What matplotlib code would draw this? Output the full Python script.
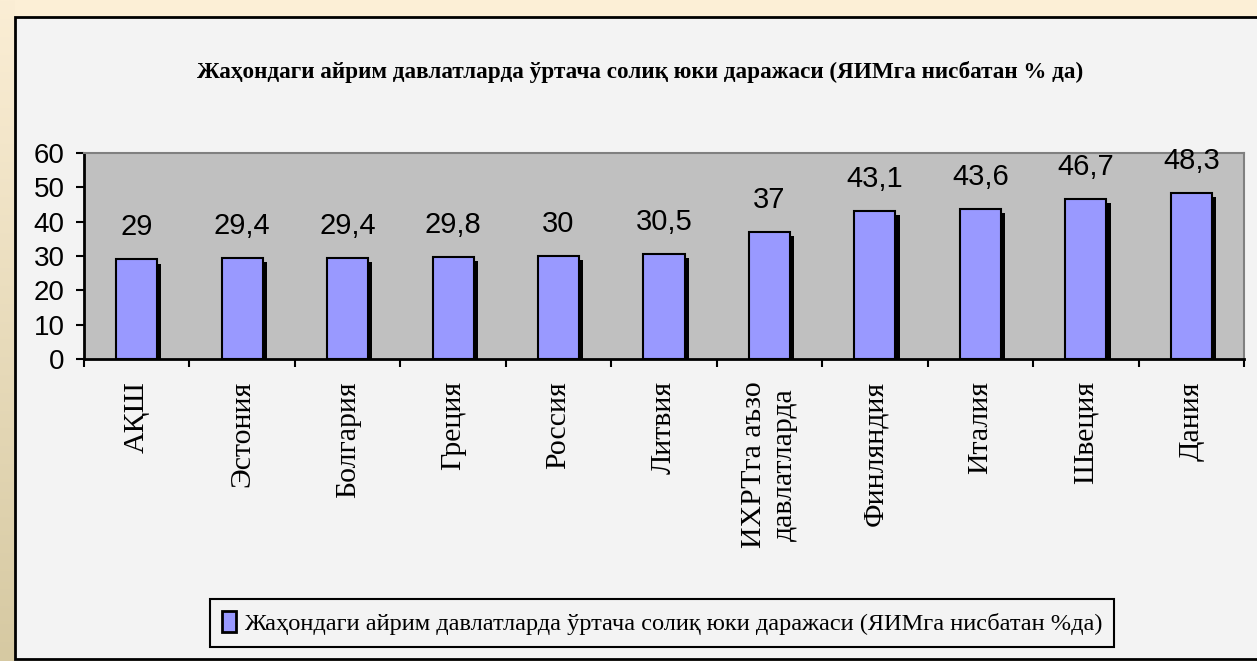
import numpy as np
import matplotlib
matplotlib.use("Agg")
import matplotlib.pyplot as plt
import matplotlib.patheffects as pe
from matplotlib.patches import Rectangle

categories = ["АҚШ", "Эстония", "Болгария", "Греция", "Россия", "Литвия",
              "ИХРТга аъзо\nдавлатларда", "Финляндия", "Италия", "Швеция", "Дания"]
values = [29, 29.4, 29.4, 29.8, 30, 30.5, 37, 43.1, 43.6, 46.7, 48.3]
yticks = [0, 10, 20, 30, 40, 50, 60]
title = "Жаҳондаги айрим давлатларда ўртача солиқ юки даражаси (ЯИМга нисбатан % да)"
series_name = "Жаҳондаги айрим давлатларда ўртача солиқ юки даражаси (ЯИМга нисбатан %да)"

SERIF = ["Liberation Serif", "DejaVu Serif"]
SANS = ["Liberation Sans Narrow", "Liberation Sans", "DejaVu Sans"]

W, H = 1257, 661
fig = plt.figure(figsize=(W / 100, H / 100), dpi=100)
fig.patch.set_facecolor("#fcefd6")

def fx(px):
    return px / W

def fy(py):
    return 1 - py / H

# left gradient strip
gax = fig.add_axes([0, 0, fx(15), 1], zorder=-2)
grad = np.linspace(0, 1, 256).reshape(-1, 1)
top_c = np.array([0xfb, 0xee, 0xd5]) / 255
bot_c = np.array([0xd6, 0xc9, 0xa2]) / 255
img = top_c[None, None, :] * (1 - grad[:, :, None]) + bot_c[None, None, :] * grad[:, :, None]
gax.imshow(img, aspect="auto", extent=[0, 1, 0, 1], origin="upper")
gax.axis("off")

# chart area box
fig.patches.append(Rectangle((fx(15), fy(659)), 1.0, fy(17) - fy(659),
                             transform=fig.transFigure, facecolor="#f3f3f3",
                             edgecolor="black", linewidth=2, zorder=-1))

left, right, top, bottom = 84, 1244, 153, 359
ax = fig.add_axes([fx(left), fy(bottom), fx(right - left), fy(top) - fy(bottom)], zorder=1)
ax.set_facecolor("#c0c0c0")

x = np.arange(len(categories))
shadow = [pe.SimplePatchShadow(offset=(3, -3), shadow_rgbFace="black", alpha=1.0), pe.Normal()]
bars = ax.bar(x, values, width=0.39, color="#9999ff", edgecolor="black",
              linewidth=1.5, zorder=3, label=series_name)
for b in bars:
    b.set_path_effects(shadow)

for xi, v in zip(x, values):
    ax.annotate(f"{v:g}".replace(".", ","), (xi, v), xytext=(0, 23),
                textcoords="offset points", ha="center", va="center",
                fontsize=21, family=SANS, color="black", annotation_clip=False,
                zorder=5)

ax.set_xlim(-0.5, len(categories) - 0.5)
ax.set_ylim(0, 60)
ax.set_yticks(yticks)
ax.set_yticklabels([str(t) for t in yticks], fontsize=20, family=SANS)
ax.tick_params(axis="y", direction="out", length=6, width=1.5, pad=8, colors="black")

ax.set_xticks(np.arange(-0.5, len(categories), 1))
ax.set_xticklabels([])
ax.tick_params(axis="x", which="major", direction="out", length=6, width=1.5)
ax.set_xticks(x, minor=True)
ax.set_xticklabels(categories, minor=True, rotation=90, fontsize=21.5,
                   family=SERIF, va="top", ha="center", multialignment="center")
ax.tick_params(axis="x", which="minor", length=0, pad=16)

for s in ["left", "bottom"]:
    ax.spines[s].set_color("black")
    ax.spines[s].set_linewidth(2)
for s in ["top", "right"]:
    ax.spines[s].set_color("#808080")
    ax.spines[s].set_linewidth(1.5)

fig.text(fx(640), fy(72), title, ha="center", va="center", fontsize=16.7,
         fontweight="bold", family=SERIF)

leg = fig.legend(handles=[bars], labels=[series_name], loc="center",
                 bbox_to_anchor=(fx((210 + 1114) / 2), fy((594 + 652) / 2)),
                 prop={"family": SERIF, "size": 17.6}, frameon=True, fancybox=False,
                 edgecolor="black", facecolor="#f3f3f3", framealpha=1,
                 handlelength=0.6, handleheight=0.9, handletextpad=0.3,
                 borderpad=0.5)
leg.get_frame().set_linewidth(1.5)
for h in leg.legend_handles:
    h.set_path_effects([])
    h.set_linewidth(2)

fig.savefig("out.png", dpi=100, facecolor=fig.get_facecolor())
